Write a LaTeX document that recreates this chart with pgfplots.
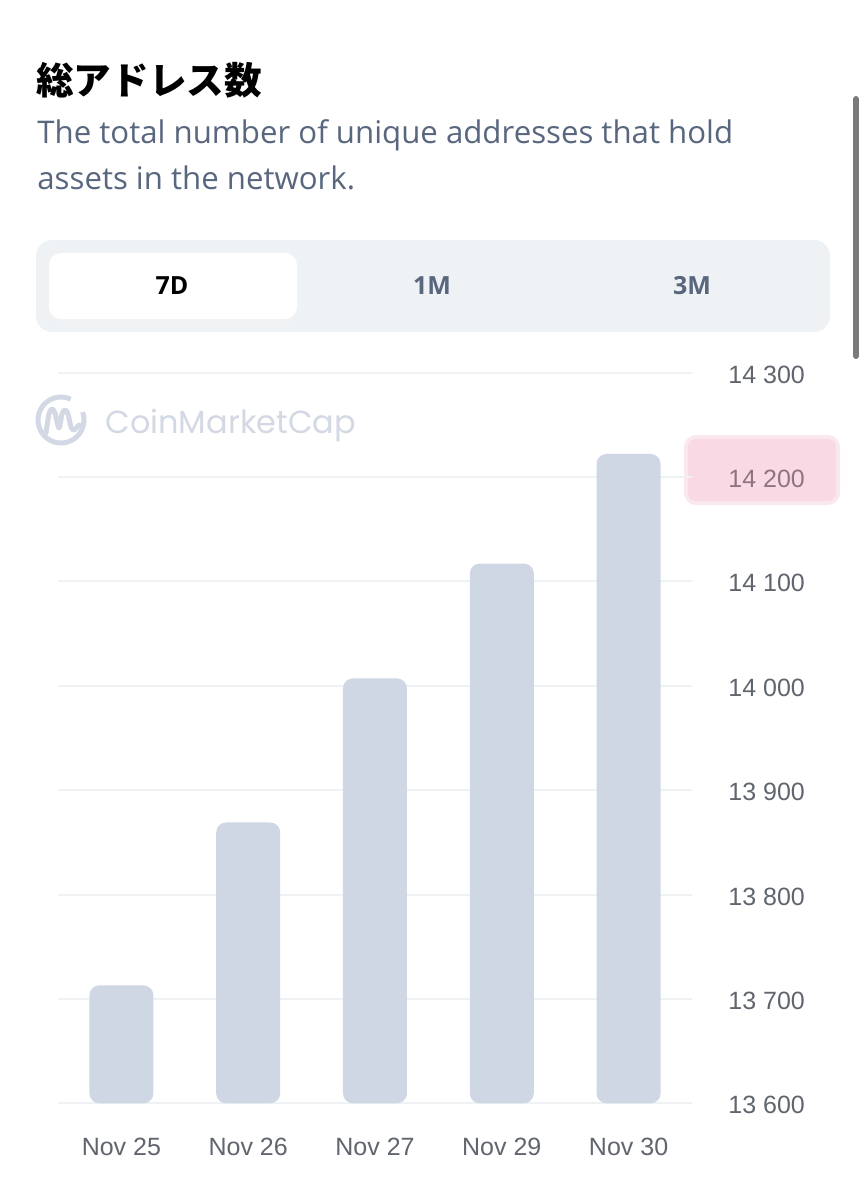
\documentclass[border=0pt]{standalone}
\usepackage{fontspec}
\usepackage{pgfplots}
\pgfplotsset{compat=1.18}
\setmainfont{Liberation Sans}
\newfontfamily\osans{Open Sans}
\newfontfamily\jp{Noto Sans CJK JP}
\newfontfamily\pop{Poppins}
\definecolor{barc}{HTML}{CFD6E4}
\definecolor{gridc}{HTML}{EFF2F5}
\definecolor{subc}{HTML}{58667E}
\definecolor{tickc}{HTML}{60656E}
\definecolor{tabc}{HTML}{EFF2F5}
\definecolor{wmc}{HTML}{D3D9E4}
\definecolor{hlc}{HTML}{F8D9E4}
\definecolor{hltext}{HTML}{8E7482}
\definecolor{scrollc}{HTML}{7A7A7A}
\begin{document}
\begin{tikzpicture}
\useasboundingbox[fill=white] (0,0) rectangle (433pt,-600pt);
\begin{scope}[x=0.5pt,y=-0.5pt]
  % title
  \node[anchor=west, inner sep=0] at (36,80) {\jp\bfseries\fontsize{18.8}{22}\selectfont 総アドレス数};
  \node[anchor=base west, inner sep=0, text=subc] at (37,143) {\osans\fontsize{15.6}{18}\selectfont The total number of unique addresses that hold};
  \node[anchor=base west, inner sep=0, text=subc] at (37,189) {\osans\fontsize{15.6}{18}\selectfont assets in the network.};
  % tab bar
  \fill[tabc, rounded corners=8pt] (36,240) rectangle (830,332);
  \fill[black!5, rounded corners=6pt] (49,255) rectangle (297,321);
  \fill[white, rounded corners=6pt] (49,253) rectangle (297,319);
  \node[inner sep=0] at (172,286) {\osans\bfseries\fontsize{12.5}{14}\selectfont 7D};
  \node[inner sep=0, text=subc] at (432,286) {\osans\bfseries\fontsize{12.5}{14}\selectfont 1M};
  \node[inner sep=0, text=subc] at (692,286) {\osans\bfseries\fontsize{12.5}{14}\selectfont 3M};
  % scrollbar
  \draw[scrollc, line width=3pt, line cap=round] (856,99) -- (856,356);
  % watermark
  \draw[wmc, line width=2.5pt] (61,420) ++(-20:23) arc (-20:295:23);
  \draw[wmc, line width=2.5pt, line cap=round, line join=round] plot[smooth] coordinates {(46,433)(49,414)(52,409)(55,413)(59,428)(62,414)(65,410)(68,414)(71,427)(74,430)(79,425)};
  \node[anchor=base west, inner sep=0, text=wmc] at (105,433) {\pop\fontsize{16}{19}\selectfont CoinMarketCap};
  % highlight box
  \fill[hlc!60, rounded corners=6pt] (684,435) rectangle (840,505);
  \fill[hlc, rounded corners=4pt] (688,439) rectangle (836,501);
\end{scope}
\begin{axis}[
  at={(29pt,-551.65pt)}, anchor=south west,
  scale only axis, width=317pt, height=365.4pt,
  xmin=-0.5, xmax=4.5, ymin=13600, ymax=14300,
  y coord trafo/.code={\pgfmathparse{#1-13600}},
  y coord inv trafo/.code={\pgfmathparse{#1+13600}},
  axis line style={draw=none}, major tick length=0pt,
  ymajorgrids, grid style={gridc, line width=1pt},
  ytick={13600,13700,13800,13900,14000,14100,14200,14300},
  yticklabels={13 600,13 700,13 800,13 900,14 000,14 100,\textcolor{hltext}{14 200},14 300},
  yticklabel pos=right,
  yticklabel style={anchor=west, inner sep=0pt, xshift=18pt, yshift=-1pt, font=\fontsize{12.5}{15}\selectfont, text=tickc},
  xtick={0,1,2,3,4},
  xticklabels={Nov 25,Nov 26,Nov 27,Nov 29,Nov 30},
  xticklabel style={anchor=north, inner sep=0pt, yshift=-17pt, font=\fontsize{12.5}{15}\selectfont, text=tickc},
  ybar, bar width=32pt,
]
\addplot[fill=barc, draw=none, rounded corners=5pt] coordinates {(0,13713) (1,13869) (2,14007) (3,14117) (4,14222)};
\end{axis}
\end{tikzpicture}
\end{document}
